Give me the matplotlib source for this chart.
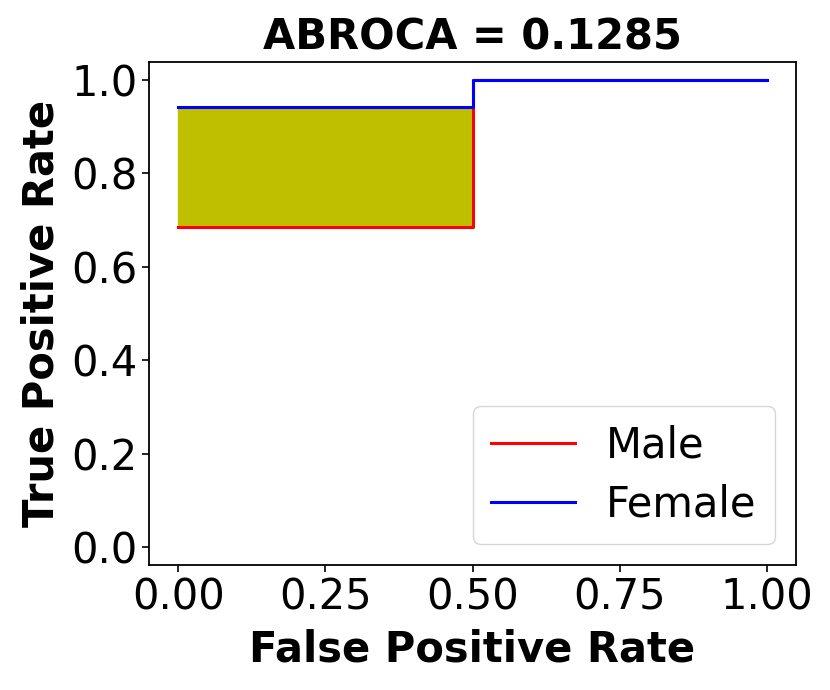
import matplotlib
matplotlib.use("Agg")
import matplotlib.pyplot as plt
import numpy as np

# Data
male_fpr = [0.0, 0.5, 0.5, 1.0]
male_tpr = [0.685, 0.685, 1.0, 1.0]
female_fpr = [0.0, 0.5, 0.5, 1.0]
female_tpr = [0.942, 0.942, 1.0, 1.0]
fill_x = [0.0, 0.5]
abroca = 0.1285
xticks = [0.00, 0.25, 0.50, 0.75, 1.00]
yticks = [0.0, 0.2, 0.4, 0.6, 0.8, 1.0]

fig = plt.figure(figsize=(8.3, 6.9), dpi=100)
ax = fig.add_axes([149/830, 1-565/690, (796-149)/830, (565-62)/690])

ax.plot(male_fpr, male_tpr, color='red', lw=2.2, label='Male')
ax.plot(female_fpr, female_tpr, color='blue', lw=2.2, label='Female')
ax.fill_between(fill_x, [male_tpr[0], male_tpr[1]], [female_tpr[0], female_tpr[1]],
                color='y', zorder=1)

ax.set_xlim(-0.05, 1.05)
ax.set_ylim(-0.0385, 1.0385)
ax.set_xticks(xticks)
ax.set_xticklabels([f"{v:.2f}" for v in xticks])
ax.set_yticks(yticks)
ax.set_yticklabels([f"{v:.1f}" for v in yticks])
ax.tick_params(labelsize=30, width=1.2, length=5)
for s in ax.spines.values():
    s.set_linewidth(1.3)

ax.set_xlabel('False Positive Rate', fontsize=30, fontweight='bold', labelpad=7)
ax.set_ylabel('True Positive Rate', fontsize=30, fontweight='bold', labelpad=6)
ax.set_title(f'ABROCA = {abroca}', fontsize=30, fontweight='bold', pad=9)
ax.legend(fontsize=30, loc='lower right', handlelength=2.0, borderpad=0.45,
          handletextpad=0.75, labelspacing=0.4)

fig.savefig('out.png', dpi=100)
